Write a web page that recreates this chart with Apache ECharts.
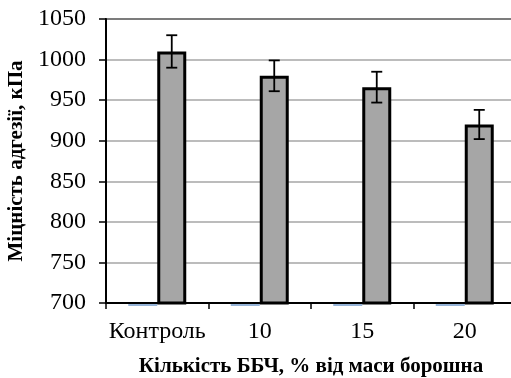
<!DOCTYPE html>
<html>
<head>
<meta charset="utf-8">
<script src="https://cdn.jsdelivr.net/npm/echarts@6/dist/echarts.min.js"></script>
<style>
  html, body { margin: 0; padding: 0; background: #fff; }
  #chart { width: 511px; height: 378px; }
</style>
</head>
<body>
<div id="chart"></div>
<script>
// Adhesion strength by amount of additive
const categories = ['Контроль', '10', '15', '20'];
const baseSeries = [700, 700, 700, 700];
const strength = [1010, 980, 966, 920];
const strengthErr = [20, 19, 19, 18];
const yTicks = { min: 700, max: 1050, interval: 50 };

const FONT = '"Liberation Serif", "Times New Roman", serif';
const BAR_W = 29;

const chart = echarts.init(document.getElementById('chart'), null, { renderer: 'canvas' });

const errData = strength.map((v, i) => [i, v - strengthErr[i], v + strengthErr[i]]);
const baseData = baseSeries.map((v, i) => [i, v]);

chart.setOption({
  animation: false,
  backgroundColor: '#fff',
  grid: {
    left: 106, right: -5, top: 19, bottom: 75,
    outerBoundsMode: 'none',
    containLabel: false,
    show: true, borderColor: '#000', borderWidth: 2, backgroundColor: 'transparent'
  },
  xAxis: {
    type: 'category',
    data: categories,
    name: 'Кількість ББЧ, % від маси борошна',
    nameLocation: 'middle',
    nameGap: 53,
    nameTextStyle: { fontFamily: FONT, fontWeight: 'bold', fontSize: 21, color: '#000' },
    axisLine: { lineStyle: { color: '#000', width: 2 } },
    axisTick: { show: true, length: 6, lineStyle: { color: '#000', width: 1.5 } },
    axisLabel: { fontFamily: FONT, fontSize: 24, color: '#000', margin: 17, interval: 0 },
    splitLine: { show: false }
  },
  yAxis: {
    type: 'value',
    min: yTicks.min, max: yTicks.max, interval: yTicks.interval,
    name: 'Міцність адгезії, кПа',
    nameLocation: 'middle',
    nameGap: 79,
    nameTextStyle: { fontFamily: FONT, fontWeight: 'bold', fontSize: 21, color: '#000' },
    axisLine: { show: true, lineStyle: { color: '#000', width: 2 } },
    axisTick: { show: true, length: 7, lineStyle: { color: '#000', width: 1.5 } },
    axisLabel: { fontFamily: FONT, fontSize: 24, color: '#000', margin: 20, formatter: v => String(v) },
    splitLine: { show: true, lineStyle: { color: '#a6a6a6', width: 1.5 } }
  },
  series: [
    {
      // first data series: sits on the baseline (zero height), takes the left slot
      type: 'bar',
      data: baseSeries,
      barWidth: BAR_W,
      barGap: '0%',
      silent: true,
      itemStyle: { color: '#4f81bd' }
    },
    {
      type: 'bar',
      data: strength,
      barWidth: BAR_W,
      barGap: '0%',
      itemStyle: { color: '#a6a6a6', borderColor: '#000', borderWidth: 3 }
    },
    {
      // visible stroke of the baseline series
      type: 'custom',
      data: baseData,
      z: 4,
      renderItem: function (params, api) {
        const p = api.coord([api.value(0), api.value(1)]);
        return {
          type: 'line',
          shape: { x1: p[0] - BAR_W, y1: p[1] + 2, x2: p[0], y2: p[1] + 2 },
          style: { stroke: '#4f81bd', lineWidth: 1.2 }
        };
      }
    },
    {
      type: 'custom',
      data: errData,
      z: 5,
      renderItem: function (params, api) {
        const i = api.value(0);
        const lo = api.coord([i, api.value(1)]);
        const hi = api.coord([i, api.value(2)]);
        const x = lo[0] + BAR_W / 2;
        const cap = 5.5;
        const style = { stroke: '#000', lineWidth: 1.8 };
        return {
          type: 'group',
          children: [
            { type: 'line', shape: { x1: x, y1: hi[1], x2: x, y2: lo[1] }, style: style },
            { type: 'line', shape: { x1: x - cap, y1: hi[1], x2: x + cap, y2: hi[1] }, style: style },
            { type: 'line', shape: { x1: x - cap, y1: lo[1], x2: x + cap, y2: lo[1] }, style: style }
          ]
        };
      }
    }
  ]
});
</script>
</body>
</html>
